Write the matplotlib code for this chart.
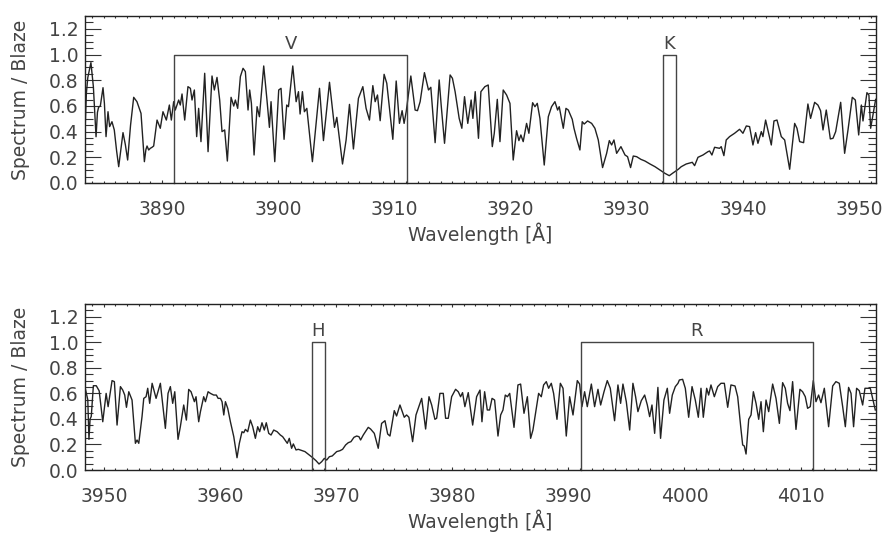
import numpy as np
import matplotlib.pyplot as plt
from matplotlib.ticker import MultipleLocator

# spectrum, order 1
top_wave = [3883.38, 3883.50, 3883.62, 3883.89, 3884.10, 3884.33, 3884.45, 3884.55, 3884.70, 3884.93,
            3885.05, 3885.19, 3885.36, 3885.50, 3885.70, 3885.90, 3886.10, 3886.28, 3886.45, 3886.65,
            3886.85, 3887.05, 3887.30, 3887.57, 3887.85, 3888.20, 3888.35, 3888.49, 3888.62, 3888.72,
            3888.86, 3889.00, 3889.15, 3889.29, 3889.58, 3889.86, 3890.09, 3890.38, 3890.64, 3890.81,
            3891.01, 3891.15, 3891.44, 3891.58, 3891.73, 3891.96, 3892.24, 3892.45, 3892.59, 3892.79,
            3892.99, 3893.16, 3893.36, 3893.68, 3893.97, 3894.31, 3894.51, 3894.74, 3894.97, 3895.17,
            3895.40, 3895.63, 3895.95, 3896.18, 3896.32, 3896.52, 3896.75, 3896.98, 3897.18, 3897.41,
            3897.55, 3897.70, 3897.93, 3898.19, 3898.39, 3898.76, 3899.04, 3899.25, 3899.39, 3899.71,
            3900.05, 3900.25, 3900.51, 3900.74, 3900.89, 3901.26, 3901.55, 3901.75, 3901.89, 3902.09,
            3902.26, 3902.47, 3902.95, 3903.56, 3903.90, 3904.42, 3904.85, 3905.05, 3905.54, 3905.85,
            3906.14, 3906.48, 3906.91, 3907.29, 3907.57, 3907.86, 3908.15, 3908.35, 3908.55, 3908.78,
            3909.12, 3909.35, 3909.87, 3910.16, 3910.44, 3910.67, 3910.84, 3911.02, 3911.42, 3911.79,
            3911.99, 3912.22, 3912.59, 3912.94, 3913.14, 3913.51, 3913.86, 3914.03, 3914.32, 3914.80,
            3915.00, 3915.23, 3915.58, 3915.81, 3916.04, 3916.32, 3916.61, 3916.76, 3916.96, 3917.24,
            3917.45, 3917.79, 3918.08, 3918.43, 3918.60, 3918.86, 3919.09, 3919.37, 3919.66, 3919.95,
            3920.23, 3920.52, 3920.72, 3920.89, 3921.09, 3921.38, 3921.58, 3921.90, 3922.10, 3922.30,
            3922.53, 3922.90, 3923.25, 3923.53, 3923.82, 3924.05, 3924.19, 3924.54, 3924.77, 3924.97,
            3925.31, 3925.46, 3925.68, 3925.97, 3926.17, 3926.34, 3926.63, 3926.98, 3927.26, 3927.55,
            3927.92, 3928.27, 3928.50, 3928.70, 3928.90, 3929.13, 3929.50, 3929.85, 3930.07, 3930.33,
            3930.56, 3930.85, 3931.22, 3931.57, 3932.00, 3932.43, 3932.86, 3933.29, 3933.66, 3934.01,
            3934.44, 3934.69, 3935.12, 3935.64, 3935.84, 3936.13, 3936.56, 3936.99, 3937.13, 3937.33,
            3937.56, 3937.99, 3938.13, 3938.36, 3938.56, 3938.85, 3939.28, 3939.71, 3940.00, 3940.29,
            3940.57, 3940.86, 3941.09, 3941.29, 3941.58, 3941.72, 3941.95, 3942.44, 3942.67, 3942.93,
            3943.30, 3943.59, 3944.02, 3944.45, 3944.65, 3944.88, 3945.22, 3945.59, 3945.82, 3946.17,
            3946.45, 3946.68, 3946.89, 3947.17, 3947.52, 3947.75, 3947.98, 3948.41, 3948.75, 3949.04,
            3949.41, 3949.67, 3949.96, 3950.19, 3950.33, 3950.67, 3950.84, 3950.99, 3951.42]
top_flux = [0.40, 0.70, 0.82, 0.937, 0.75, 0.36, 0.55, 0.59, 0.60, 0.742,
            0.62, 0.361, 0.555, 0.439, 0.477, 0.413, 0.25, 0.127, 0.25, 0.392,
            0.30, 0.179, 0.45, 0.667, 0.633, 0.542, 0.35, 0.166, 0.26, 0.288,
            0.257, 0.27, 0.278, 0.288, 0.490, 0.426, 0.555, 0.490, 0.607, 0.490,
            0.633, 0.568, 0.646, 0.607, 0.693, 0.490, 0.750, 0.737, 0.646, 0.724,
            0.361, 0.581, 0.322, 0.854, 0.244, 0.833, 0.724, 0.822, 0.646, 0.400,
            0.413, 0.171, 0.667, 0.599, 0.646, 0.581, 0.828, 0.893, 0.867, 0.568,
            0.724, 0.62, 0.218, 0.594, 0.516, 0.911, 0.646, 0.433, 0.633, 0.166,
            0.724, 0.737, 0.340, 0.607, 0.594, 0.911, 0.633, 0.711, 0.537, 0.711,
            0.555, 0.581, 0.166, 0.737, 0.330, 0.784, 0.433, 0.511, 0.148, 0.335,
            0.612, 0.265, 0.659, 0.750, 0.581, 0.490, 0.758, 0.633, 0.685, 0.485,
            0.846, 0.776, 0.340, 0.794, 0.464, 0.563, 0.464, 0.555, 0.833, 0.568,
            0.563, 0.633, 0.859, 0.724, 0.745, 0.314, 0.802, 0.607, 0.309, 0.841,
            0.815, 0.711, 0.503, 0.426, 0.672, 0.464, 0.646, 0.503, 0.711, 0.348,
            0.711, 0.750, 0.763, 0.283, 0.387, 0.651, 0.322, 0.724, 0.685, 0.620,
            0.179, 0.407, 0.330, 0.374, 0.322, 0.464, 0.387, 0.625, 0.594, 0.620,
            0.503, 0.140, 0.516, 0.594, 0.633, 0.568, 0.594, 0.426, 0.581, 0.568,
            0.496, 0.426, 0.348, 0.257, 0.477, 0.459, 0.483, 0.464, 0.426, 0.335,
            0.120, 0.231, 0.330, 0.296, 0.335, 0.231, 0.283, 0.218, 0.205, 0.120,
            0.210, 0.205, 0.184, 0.171, 0.148, 0.127, 0.101, 0.075, 0.057, 0.080,
            0.107, 0.127, 0.148, 0.161, 0.135, 0.200, 0.218, 0.244, 0.249, 0.218,
            0.278, 0.270, 0.283, 0.213, 0.335, 0.361, 0.387, 0.418, 0.387, 0.444,
            0.439, 0.296, 0.392, 0.309, 0.400, 0.361, 0.490, 0.296, 0.483, 0.490,
            0.361, 0.335, 0.107, 0.464, 0.426, 0.322, 0.314, 0.615, 0.503, 0.628,
            0.607, 0.563, 0.413, 0.568, 0.343, 0.348, 0.400, 0.628, 0.231, 0.413,
            0.667, 0.646, 0.374, 0.607, 0.483, 0.703, 0.685, 0.426, 0.651]

# spectrum, order 2
bot_wave = [3948.40, 3948.62, 3948.72, 3948.82, 3948.92, 3949.10, 3949.35, 3949.60, 3949.91, 3950.20,
            3950.37, 3950.71, 3950.91, 3951.14, 3951.43, 3951.63, 3951.80, 3951.95, 3952.15, 3952.43,
            3952.72, 3952.86, 3953.01, 3953.29, 3953.44, 3953.64, 3953.78, 3953.95, 3954.16, 3954.50,
            3954.87, 3955.30, 3955.53, 3955.73, 3955.93, 3956.11, 3956.39, 3956.59, 3956.88, 3957.11,
            3957.31, 3957.51, 3957.80, 3957.94, 3958.17, 3958.32, 3958.60, 3958.75, 3958.98, 3959.18,
            3959.46, 3959.69, 3959.84, 3960.04, 3960.18, 3960.33, 3960.47, 3960.67, 3960.90, 3961.19,
            3961.47, 3961.67, 3961.90, 3962.05, 3962.19, 3962.39, 3962.62, 3962.82, 3963.05, 3963.25,
            3963.42, 3963.62, 3963.82, 3963.99, 3964.20, 3964.40, 3964.63, 3964.92, 3965.20, 3965.40,
            3965.60, 3965.80, 3965.97, 3966.17, 3966.32, 3966.55, 3966.75, 3967.32, 3967.61, 3967.95,
            3968.27, 3968.53, 3968.76, 3968.99, 3969.19, 3969.42, 3969.67, 3970.05, 3970.33, 3970.56,
            3970.82, 3971.05, 3971.28, 3971.54, 3971.77, 3971.97, 3972.11, 3972.34, 3972.77, 3972.97,
            3973.29, 3973.63, 3973.92, 3974.21, 3974.44, 3974.64, 3975.01, 3975.21, 3975.50, 3975.70,
            3975.87, 3976.07, 3976.27, 3976.59, 3976.88, 3977.37, 3977.71, 3978.00, 3978.23, 3978.51,
            3978.66, 3978.94, 3979.23, 3979.43, 3979.66, 3979.95, 3980.29, 3980.52, 3980.72, 3980.89,
            3981.09, 3981.38, 3981.76, 3982.10, 3982.39, 3982.56, 3982.79, 3983.02, 3983.22, 3983.43,
            3983.65, 3983.94, 3984.17, 3984.37, 3984.57, 3984.75, 3984.95, 3985.32, 3985.66, 3985.89,
            3986.18, 3986.47, 3986.75, 3986.95, 3987.24, 3987.44, 3987.67, 3987.87, 3988.10, 3988.30,
            3988.53, 3988.73, 3989.02, 3989.31, 3989.54, 3989.82, 3990.11, 3990.40, 3990.77, 3990.97,
            3991.17, 3991.40, 3991.63, 3991.98, 3992.26, 3992.55, 3992.78, 3993.07, 3993.35, 3993.61,
            3993.98, 3994.27, 3994.50, 3994.70, 3994.99, 3995.28, 3995.56, 3995.79, 3995.99, 3996.28,
            3996.57, 3996.80, 3997.00, 3997.20, 3997.43, 3997.71, 3997.94, 3998.23, 3998.52, 3998.72,
            3998.95, 3999.21, 3999.44, 3999.56, 3999.84, 4000.07, 4000.36, 4000.65, 4000.93, 4001.19,
            4001.42, 4001.62, 4001.91, 4002.08, 4002.28, 4002.57, 4002.86, 4003.14, 4003.43, 4003.72,
            4004.00, 4004.35, 4004.58, 4004.87, 4005.01, 4005.15, 4005.30, 4005.53, 4005.73, 4005.93,
            4006.16, 4006.39, 4006.59, 4006.79, 4007.02, 4007.25, 4007.59, 4007.88, 4008.17, 4008.45,
            4008.68, 4008.88, 4009.08, 4009.31, 4009.60, 4009.94, 4010.17, 4010.40, 4010.60, 4010.83,
            4011.09, 4011.32, 4011.55, 4011.75, 4012.04, 4012.41, 4012.76, 4013.04, 4013.33, 4013.62,
            4013.85, 4014.13, 4014.34, 4014.56, 4014.82, 4015.05, 4015.34, 4015.54, 4016.00, 4016.43]
bot_flux = [0.64, 0.55, 0.24, 0.40, 0.42, 0.66, 0.66, 0.62, 0.378, 0.600,
            0.496, 0.700, 0.692, 0.352, 0.653, 0.626, 0.587, 0.491, 0.613, 0.548,
            0.209, 0.235, 0.209, 0.418, 0.561, 0.574, 0.640, 0.522, 0.679, 0.561,
            0.679, 0.326, 0.600, 0.653, 0.522, 0.613, 0.240, 0.339, 0.509, 0.391,
            0.631, 0.613, 0.535, 0.574, 0.378, 0.457, 0.574, 0.535, 0.613, 0.600,
            0.587, 0.587, 0.561, 0.561, 0.535, 0.431, 0.535, 0.483, 0.378, 0.261,
            0.096, 0.209, 0.300, 0.292, 0.318, 0.300, 0.391, 0.339, 0.248, 0.339,
            0.300, 0.370, 0.313, 0.370, 0.287, 0.274, 0.313, 0.300, 0.274, 0.261,
            0.235, 0.209, 0.248, 0.170, 0.204, 0.157, 0.162, 0.144, 0.123, 0.099,
            0.073, 0.047, 0.065, 0.091, 0.078, 0.104, 0.110, 0.144, 0.151, 0.162,
            0.196, 0.214, 0.222, 0.256, 0.266, 0.261, 0.235, 0.274, 0.334, 0.321,
            0.287, 0.170, 0.365, 0.386, 0.282, 0.266, 0.465, 0.423, 0.509, 0.457,
            0.413, 0.431, 0.413, 0.222, 0.431, 0.561, 0.321, 0.574, 0.509, 0.397,
            0.405, 0.600, 0.600, 0.405, 0.405, 0.574, 0.632, 0.613, 0.574, 0.606,
            0.496, 0.606, 0.352, 0.574, 0.626, 0.378, 0.613, 0.470, 0.470, 0.561,
            0.548, 0.266, 0.431, 0.470, 0.587, 0.574, 0.600, 0.334, 0.666, 0.673,
            0.444, 0.574, 0.248, 0.313, 0.483, 0.600, 0.574, 0.666, 0.692, 0.640,
            0.679, 0.600, 0.397, 0.679, 0.640, 0.266, 0.574, 0.431, 0.700, 0.673,
            0.496, 0.613, 0.496, 0.673, 0.496, 0.632, 0.509, 0.613, 0.700, 0.640,
            0.386, 0.666, 0.522, 0.673, 0.535, 0.313, 0.679, 0.574, 0.457, 0.543,
            0.587, 0.509, 0.418, 0.509, 0.287, 0.647, 0.248, 0.548, 0.640, 0.444,
            0.587, 0.653, 0.679, 0.705, 0.710, 0.640, 0.413, 0.653, 0.548, 0.413,
            0.640, 0.413, 0.640, 0.587, 0.666, 0.574, 0.653, 0.679, 0.679, 0.491,
            0.666, 0.658, 0.574, 0.313, 0.196, 0.188, 0.125, 0.397, 0.431, 0.613,
            0.522, 0.397, 0.535, 0.300, 0.548, 0.457, 0.673, 0.561, 0.365, 0.684,
            0.640, 0.522, 0.465, 0.692, 0.318, 0.632, 0.613, 0.574, 0.483, 0.496,
            0.700, 0.535, 0.587, 0.527, 0.640, 0.339, 0.658, 0.692, 0.679, 0.496,
            0.339, 0.647, 0.600, 0.339, 0.640, 0.621, 0.509, 0.640, 0.640, 0.470]

# S-index passbands: name, centre, full width
band_names = ['V', 'K', 'H', 'R']
band_centres = [3901.07, 3933.66, 3968.47, 4001.07]
band_widths = [20.0, 1.09, 1.09, 20.0]

top_xlim = (3883.38, 3951.45)
bot_xlim = (3948.38, 4016.49)

ink = '#222222'
plt.rcParams['font.family'] = 'DejaVu Sans'
plt.rcParams['font.size'] = 13.5
plt.rcParams['text.color'] = '#444444'
plt.rcParams['axes.labelcolor'] = '#444444'
plt.rcParams['xtick.color'] = '#333333'
plt.rcParams['ytick.color'] = '#333333'
plt.rcParams['xtick.labelcolor'] = '#444444'
plt.rcParams['ytick.labelcolor'] = '#444444'


def setup(ax, xlim):
    ax.set_xlim(xlim)
    ax.set_ylim(0, 1.3)
    ax.set_yticks(np.arange(0, 1.21, 0.2))
    ax.set_yticklabels(['%.1f' % t for t in np.arange(0, 1.21, 0.2)])
    ax.xaxis.set_major_locator(MultipleLocator(10))
    ax.xaxis.set_minor_locator(MultipleLocator(1))
    ax.yaxis.set_minor_locator(MultipleLocator(0.05))
    ax.tick_params(axis='both', which='both', direction='in', top=True, right=True, width=0.8)
    ax.tick_params(axis='y', which='major', length=11.5, pad=4.5)
    ax.tick_params(axis='y', which='minor', length=5.8)
    ax.tick_params(axis='x', which='major', length=2.5, pad=12.5)
    ax.tick_params(axis='x', which='minor', length=1.3)
    for s in ax.spines.values():
        s.set_linewidth(1.0)
        s.set_color(ink)
    ax.set_xlabel('Wavelength [Å]', labelpad=2)
    ax.set_ylabel('Spectrum / Blaze', labelpad=14)


def bands(ax):
    lo, hi = ax.get_xlim()
    for name, c, w in zip(band_names, band_centres, band_widths):
        if lo < c < hi:
            a, b = c - w / 2, c + w / 2
            ax.plot([a, a, b, b], [0, 1, 1, 0], color='#444444', lw=1.0, clip_on=False)
            ax.text(c, 1.015, name, ha='center', va='bottom', fontsize=13)


fig = plt.figure(figsize=(8.86, 5.38), dpi=100)
ax1 = fig.add_axes([85 / 886, 1 - 183 / 538, 791 / 886, 167 / 538])
ax2 = fig.add_axes([85 / 886, 1 - 470 / 538, 791 / 886, 166 / 538])

ax1.plot(top_wave, top_flux, color=ink, lw=1.0)
ax2.plot(bot_wave, bot_flux, color=ink, lw=1.0)

for ax, xl in [(ax1, top_xlim), (ax2, bot_xlim)]:
    setup(ax, xl)
    bands(ax)

fig.savefig('out.png', dpi=100)
